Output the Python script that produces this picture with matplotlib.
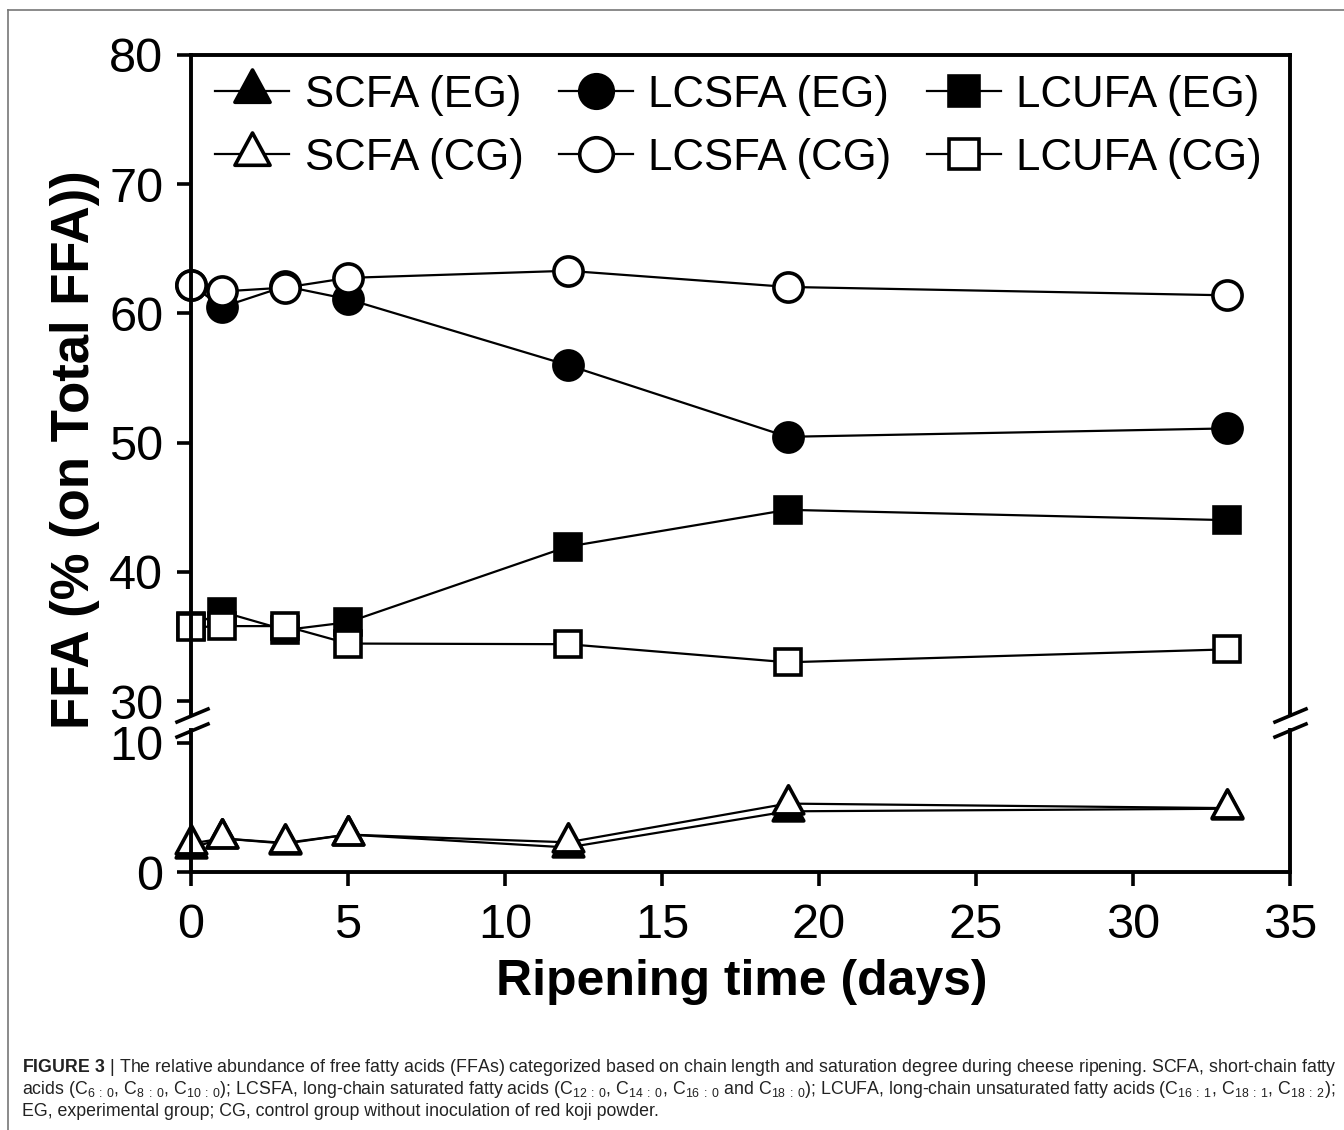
import numpy as np
import matplotlib
matplotlib.use("Agg")
import matplotlib.pyplot as plt
from matplotlib.path import Path
from matplotlib.lines import Line2D

plt.rcParams['font.family'] = ['Liberation Sans', 'DejaVu Sans']
plt.rcParams['mathtext.fontset'] = 'custom'
plt.rcParams['mathtext.rm'] = 'Liberation Sans'
plt.rcParams['mathtext.bf'] = 'Liberation Sans:bold'

# ripening days and % of total FFA
days = [0, 1, 3, 5, 12, 19, 33]
scfa_eg  = [1.85, 2.6, 2.2, 2.9, 1.9, 4.7, 4.9]
scfa_cg  = [2.2, 2.6, 2.25, 2.9, 2.3, 5.3, 4.95]
lcsfa_eg = [62.2, 60.5, 62.1, 61.1, 56.0, 50.45, 51.1]
lcsfa_cg = [62.2, 61.7, 62.0, 62.75, 63.3, 62.05, 61.4]
lcufa_eg = [35.8, 36.9, 35.5, 36.1, 41.95, 44.8, 44.0]
lcufa_cg = [35.7, 35.8, 35.8, 34.45, 34.4, 33.0, 34.0]

W, H = 1344, 1130
fig = plt.figure(figsize=(W / 100, H / 100), dpi=100)

def fx(px): return px / W
def fy(py): return 1 - py / H

ax_top = fig.add_axes([fx(191), fy(715), fx(1290) - fx(191), fy(55) - fy(715)])
ax_bot = fig.add_axes([fx(191), fy(872), fx(1290) - fx(191), fy(730) - fy(872)])

# triangle with its centroid at the marker origin
tri = Path([(0, 0.613), (-0.5, -0.307), (0.5, -0.307), (0, 0.613)],
           [Path.MOVETO, Path.LINETO, Path.LINETO, Path.CLOSEPOLY])

lw = 1.6
mew = 2.6
common = dict(color='black', lw=lw, mew=mew, mec='black', clip_on=False)

h = {}
h['SCFA (EG)'], = ax_bot.plot(days, scfa_eg, marker=tri, ms=27, mfc='black', **common)
h['LCSFA (EG)'], = ax_top.plot(days, lcsfa_eg, marker='o', ms=21, mfc='black', **common)
h['LCUFA (EG)'], = ax_top.plot(days, lcufa_eg, marker='s', ms=18.5, mfc='black', **common)
h['SCFA (CG)'], = ax_bot.plot(days, scfa_cg, marker=tri, ms=27, mfc='white', **common)
h['LCSFA (CG)'], = ax_top.plot(days, lcsfa_cg, marker='o', ms=21, mfc='white', **common)
h['LCUFA (CG)'], = ax_top.plot(days, lcufa_cg, marker='s', ms=18.5, mfc='white', **common)

for ax in (ax_top, ax_bot):
    ax.set_xlim(0, 35)
    for s in ax.spines.values():
        s.set_linewidth(2.8)
    ax.tick_params(direction='out', length=10, width=2.6, labelsize=35)
    ax.tick_params(axis='y', pad=10)
    ax.tick_params(axis='x', pad=12)

ax_top.set_ylim(28.92, 80)
ax_top.set_yticks([30, 40, 50, 60, 70, 80])
ax_top.spines['bottom'].set_visible(False)
ax_top.tick_params(axis='x', bottom=False, labelbottom=False)

ax_bot.set_ylim(0, 11.0)
ax_bot.set_yticks([0, 10])
ax_bot.set_xticks([0, 5, 10, 15, 20, 25, 30, 35])
ax_bot.spines['top'].set_visible(False)

# legend: rows are EG / CG
labels = ['SCFA (EG)', 'SCFA (CG)', 'LCSFA (EG)', 'LCSFA (CG)', 'LCUFA (EG)', 'LCUFA (CG)']
ax_top.legend([h[k] for k in labels], labels, ncol=3, frameon=False,
              fontsize=31.5, loc='upper left', bbox_to_anchor=(-0.002, 1.01),
              handlelength=1.7, columnspacing=0.8, handletextpad=0.35,
              labelspacing=0.5, borderaxespad=0.2, markerscale=1.15)

# break marks
for x0 in (177, 1275):
    for y0 in (722, 737):
        fig.add_artist(Line2D([fx(x0), fx(x0 + 31)], [fy(y0), fy(y0 - 13)],
                              transform=fig.transFigure, color='black', lw=2.6))

fig.text(fx(75), fy(450), 'FFA (% (on Total FFA))', rotation=90, fontsize=38,
         fontweight='bold', ha='center', va='center')
fig.text(fx(742), fy(982), 'Ripening time (days)', fontsize=36,
         fontweight='bold', ha='center', va='center')

# outer frame lines
fig.add_artist(Line2D([fx(7.5), fx(7.5)], [fy(10), 0], transform=fig.transFigure,
                      color='#777777', lw=1.2))
fig.add_artist(Line2D([fx(7.5), 1], [fy(10), fy(10)], transform=fig.transFigure,
                      color='#777777', lw=1.2))

cap = [
    r"$\mathbf{FIGURE\ 3}$ | The relative abundance of free fatty acids (FFAs) categorized based on chain length and saturation degree during cheese ripening. SCFA, short-chain fatty",
    r"acids (C$_{6\,:\,0}$, C$_{8\,:\,0}$, C$_{10\,:\,0}$); LCSFA, long-chain saturated fatty acids (C$_{12\,:\,0}$, C$_{14\,:\,0}$, C$_{16\,:\,0}$ and C$_{18\,:\,0}$); LCUFA, long-chain unsaturated fatty acids (C$_{16\,:\,1}$, C$_{18\,:\,1}$, C$_{18\,:\,2}$);",
    "EG, experimental group; CG, control group without inoculation of red koji powder.",
]
for i, line in enumerate(cap):
    fig.text(fx(22), fy(1068 + 22 * i), line, fontsize=12.8, color='#222222',
             va='center')

fig.savefig('out.png', dpi=100)
